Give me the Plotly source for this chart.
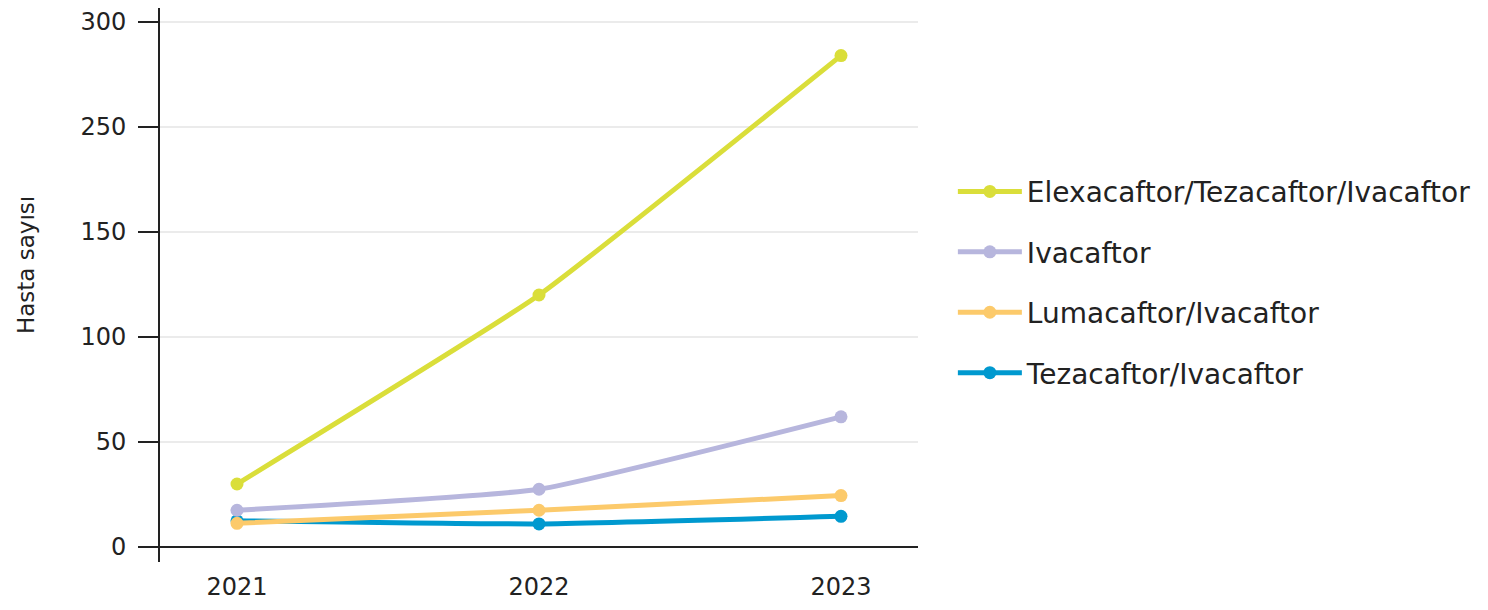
import plotly.graph_objects as go

years = ["2021", "2022", "2023"]
elexa = [30, 120, 234]
iva = [17.5, 27.5, 62]
luma = [11.3, 17.5, 24.5]
teza = [12.5, 11, 14.6]

tick_vals = [0, 50, 100, 150, 200, 250]
tick_text = ["0", "50", "100", "150", "250", "300"]

y_title = "Hasta sayısı"

# drawing order (bottom to top), legend rank
series = [
    ("Tezacaftor/Ivacaftor", teza, "#0099CF", 4),
    ("Lumacaftor/Ivacaftor", luma, "#FCCA6B", 3),
    ("Ivacaftor", iva, "#B7B6DD", 2),
    ("Elexacaftor/Tezacaftor/Ivacaftor", elexa, "#DADE3A", 1),
]

fig = go.Figure()
for name, vals, col, rank in series:
    fig.add_trace(go.Scatter(
        x=years, y=vals, name=name, mode="lines+markers",
        line=dict(color=col, width=5, shape="spline", smoothing=0.4),
        marker=dict(color=col, size=13),
        legendgroup=name, legendrank=rank,
    ))

font_family = "DejaVu Sans, sans-serif"
fig.update_layout(
    width=1488, height=610,
    margin=dict(l=152, r=578, t=0, b=56),
    plot_bgcolor="white", paper_bgcolor="white",
    font=dict(family=font_family, size=22, color="#222222"),
    legend=dict(
        x=1.046, y=0.505, yanchor="middle", xanchor="left",
        tracegroupgap=21, itemwidth=64,
        font=dict(size=28, color="#222222"),
    ),
    xaxis=dict(
        type="category", range=[-0.255, 2.255], automargin=False,
        showgrid=False, showline=False, zeroline=False, ticks="",
        tickfont=dict(size=24), ticklabelstandoff=8,
    ),
    yaxis=dict(
        range=[-7.14, 256.67], automargin=False,
        tickvals=tick_vals, ticktext=tick_text,
        showgrid=True, gridcolor="#EBEBEB", gridwidth=2,
        showline=True, linecolor="#222222", linewidth=2,
        zeroline=True, zerolinecolor="#222222", zerolinewidth=2,
        ticks="outside", ticklen=20, tickwidth=2, tickcolor="#222222",
        tickfont=dict(size=24), ticklabelstandoff=7,
        ticklabeloverflow="allow",
    ),
    annotations=[dict(
        text=y_title, textangle=-90, showarrow=False,
        xref="paper", yref="paper", x=-0.1768, y=0.536,
        xanchor="center", yanchor="middle",
        font=dict(size=23, color="#222222"),
    )],
)

fig.write_html("out.html")
